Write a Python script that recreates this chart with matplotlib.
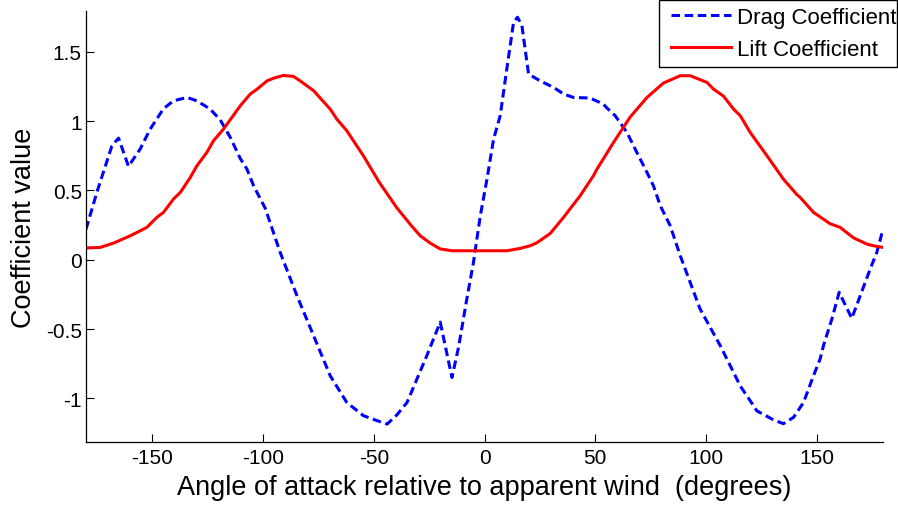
import numpy as np
import matplotlib
matplotlib.use('Agg')
import matplotlib.pyplot as plt
from matplotlib.patches import Rectangle

plt.rcParams['font.family'] = ['Liberation Sans', 'DejaVu Sans']

# drag coefficient (blue, dashed)
angulo_drag = [-180, -175.1, -168.3, -165.3, -160.8, -155.5, -151, -145, -140.5, -134.4,
               -129.9, -123.9, -119.4, -114.9, -110.3, -107.3, -104.3, -99, -92.3, -84.7,
               -77.2, -69.7, -62.2, -54.7, -47.1, -44, -39.6, -35, -30.5, -26, -20, -14.7,
               -11.7, -8, -5, -1.9, 1.1, 4.1, 7.1, 10.1, 13.1, 14.9, 16.9, 19.9, 25.2, 31.2,
               35.7, 40.2, 47.7, 53.7, 55.3, 59, 64.3, 68.8, 73.4, 76.3, 79.4, 83.9, 88.4,
               97.4, 106.5, 115.5, 121.5, 123, 130.5, 135, 139.6, 144.1, 148.6, 151.6, 153.1,
               156.9, 160.2, 165.9, 169.7, 174.2, 177.2, 180]
drag = [0.22, 0.486, 0.822, 0.878, 0.674, 0.80, 0.943, 1.09, 1.147, 1.171,
        1.147, 1.087, 1.01, 0.885, 0.73, 0.654, 0.534, 0.37, 0.053, -0.26,
        -0.548, -0.837, -1.03, -1.125, -1.169, -1.186, -1.12, -1.03, -0.86, -0.69, -0.45, -0.85,
        -0.63, -0.284, -0.02, 0.317, 0.58, 0.87, 1.04, 1.38, 1.71, 1.75, 1.69, 1.34, 1.29, 1.244,
        1.196, 1.171, 1.167, 1.123, 1.095, 1.04, 0.92, 0.775, 0.63, 0.534, 0.39, 0.245, 0.03,
        -0.356, -0.62, -0.91, -1.053, -1.09, -1.155, -1.183, -1.137, -1.03, -0.837, -0.716, -0.62,
        -0.428, -0.235, -0.423, -0.26, -0.067, 0.053, 0.22]

# lift coefficient (red, solid)
angulo_lift = [-180, -173.6, -167.6, -160, -155.5, -152.5, -148, -145, -140.5, -137.4,
               -132.9, -129.9, -125.4, -122.4, -117.9, -110.3, -105.8, -102.8, -98.3,
               -95.3, -90.8, -86.3, -83.2, -77.2, -69.7, -66.7, -62.2, -54.7, -47.5,
               -39.6, -33, -29, -24.5, -20, -14.7, 10.1, 16.1, 20.6, 23.7, 29.7, 35.7, 43.2,
               49.2, 50.8, 58.3, 65.8, 73.4, 80.8, 88.4, 92.9, 100.5, 103.4, 108, 112.5, 115.5,
               120, 127.6, 135, 141.1, 142.6, 148.6, 156.1, 160.6, 166.7, 172.7,
               175.7, 180]
lift = [0.085, 0.089, 0.12, 0.173, 0.209, 0.234, 0.306, 0.342, 0.438, 0.486,
        0.594, 0.678, 0.775, 0.859, 0.943, 1.111, 1.196, 1.23, 1.29,
        1.31, 1.33, 1.323, 1.29, 1.22, 1.087, 1.015, 0.931, 0.75, 0.558,
        0.375, 0.245, 0.173, 0.12, 0.078, 0.065, 0.065, 0.082, 0.101, 0.123, 0.19, 0.306, 0.462,
        0.606, 0.654, 0.847, 1.03, 1.171, 1.275, 1.328, 1.328, 1.28, 1.232, 1.18, 1.087, 1.04,
        0.919, 0.75, 0.582, 0.47, 0.45, 0.342, 0.26, 0.234, 0.158, 0.113,
        0.101, 0.089]

xticks = [-150, -100, -50, 0, 50, 100, 150]
yticks = [-1, -0.5, 0, 0.5, 1, 1.5]
xtick_labels = ['-150', '-100', '-50', '0', '50', '100', '150']
ytick_labels = ['-1', '-0.5', '0', '0.5', '1', '1.5']

W, H = 898, 506
fig = plt.figure(figsize=(W/100, H/100), dpi=100)
ax = fig.add_axes([86/W, 63/H, 797/W, 431/H])

ax.plot(angulo_drag, drag, color='#0000ff', lw=2.2, dashes=(2.8, 1.5),
        label='Drag Coefficient')
ax.plot(angulo_lift, lift, color='#ff0000', lw=2.2, label='Lift Coefficient')

ax.set_xlim(-180, 180)
ax.set_ylim(-1.315, 1.795)
ax.set_xticks(xticks)
ax.set_xticklabels(xtick_labels)
ax.set_yticks(yticks)
ax.set_yticklabels(ytick_labels)
ax.tick_params(direction='in', length=5.5, width=0.8, labelsize=15, pad=4)
ax.tick_params(axis='y', pad=3)

ax.spines['top'].set_visible(False)
ax.spines['right'].set_visible(False)
for s in ['left', 'bottom']:
    ax.spines[s].set_linewidth(0.9)

ax.set_xlabel('Angle of attack relative to apparent wind  (degrees)', fontsize=19.5, labelpad=5.5)
ax.set_ylabel('Coefficient value', fontsize=19.5, labelpad=6)

# legend: matlab style box, more room on the left than on the right
leg = fig.legend(loc='upper left', bbox_to_anchor=(671/W, 1 - 8/H),
                 fontsize=16, frameon=False, handlelength=2.7, handletextpad=0.28,
                 borderpad=0, labelspacing=0.48, borderaxespad=0)
caja = Rectangle((659/W, 1 - 68/H), (897 - 659)/W, 67/H, transform=fig.transFigure,
                 facecolor='white', edgecolor='black', lw=1.0, zorder=4)
fig.add_artist(caja)
leg.set_zorder(5)

fig.savefig('out.png', dpi=100)
